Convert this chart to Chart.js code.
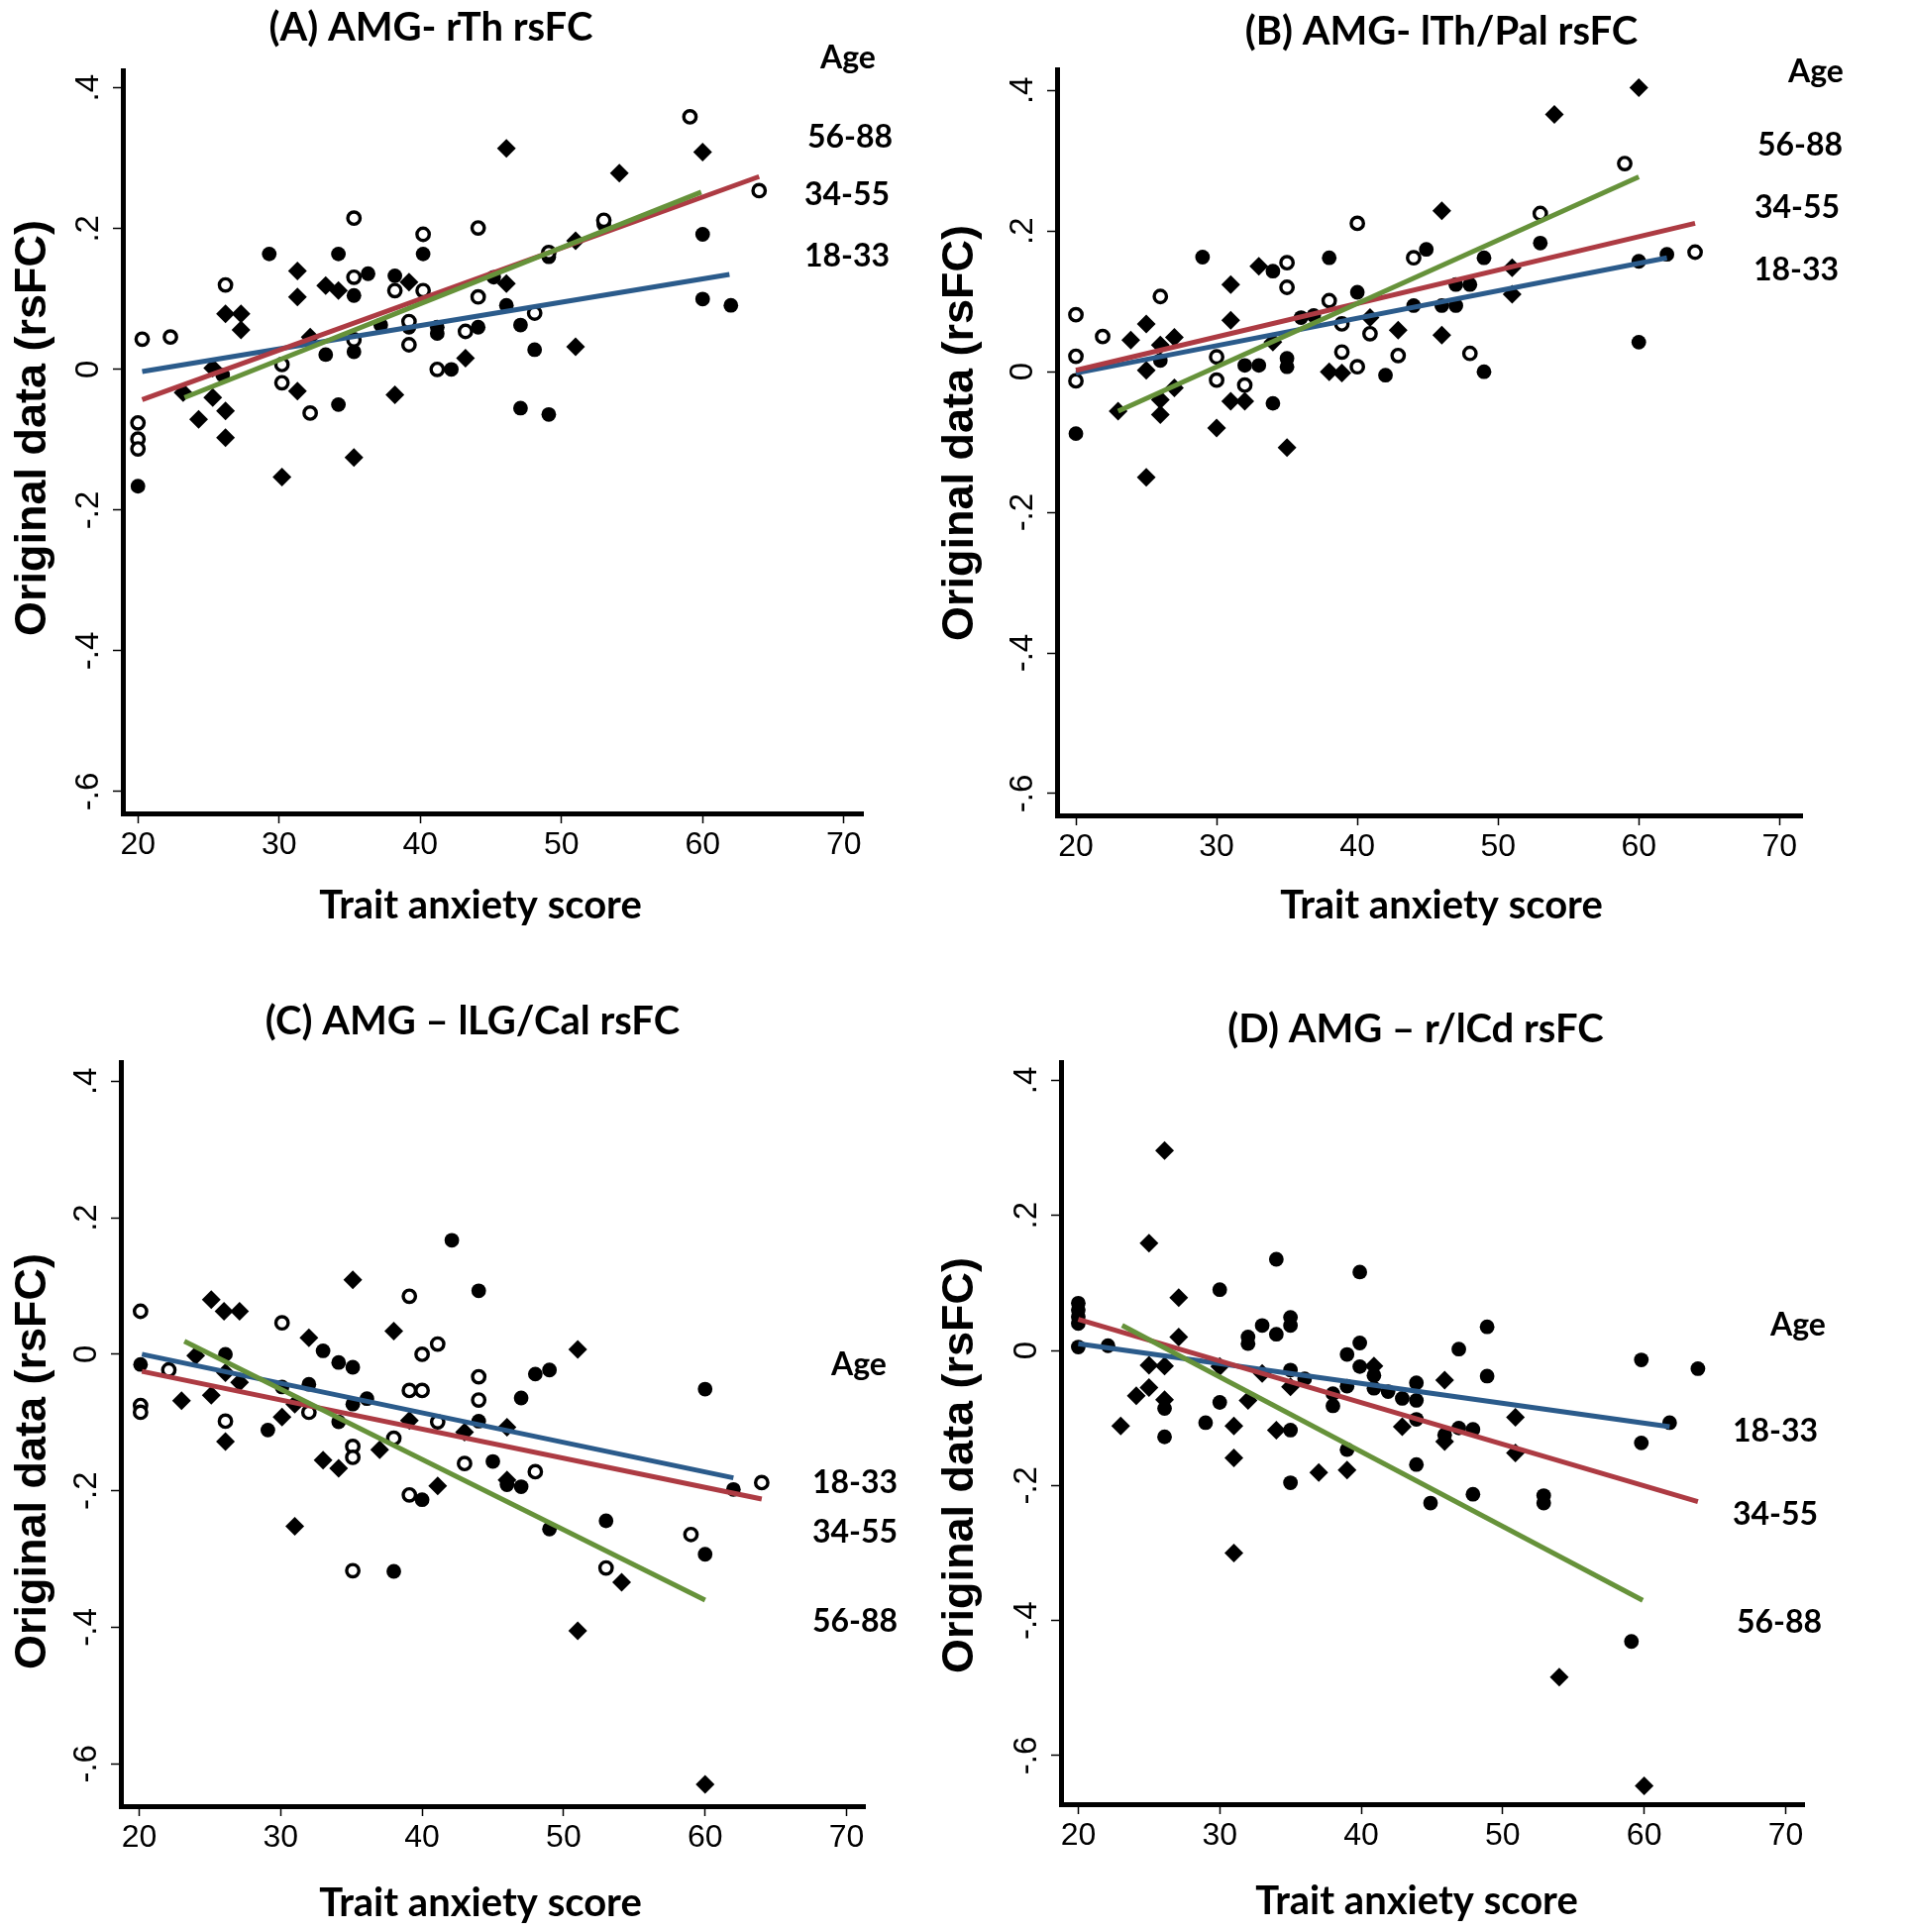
<!DOCTYPE html>
<html>
<head>
<meta charset="utf-8">
<title>Trait anxiety score vs amygdala rsFC by age group</title>
<script src="https://cdn.jsdelivr.net/npm/chart.js@4.4.1/dist/chart.umd.min.js"></script>
<style>
  html, body { margin: 0; padding: 0; background: #fff; }
  #fig { position: relative; width: 1930px; height: 1950px; overflow: hidden; }
  #fig canvas { position: absolute; }
</style>
</head>
<body>
<div id="fig">
  <canvas id="panel-a" width="940" height="975" style="left:0px;top:0px"></canvas>
  <canvas id="panel-b" width="990" height="975" style="left:940px;top:0px"></canvas>
  <canvas id="panel-c" width="940" height="975" style="left:0px;top:975px"></canvas>
  <canvas id="panel-d" width="990" height="975" style="left:940px;top:975px"></canvas>
</div>
<script>
// Trait anxiety (x) vs original rsFC data (y), markers: ● 18-33, ○ 34-55, ◆ 56-88

const X_TICKS = [20, 30, 40, 50, 60, 70];
const Y_TICKS = [-0.6, -0.4, -0.2, 0, 0.2, 0.4];
const AGE_GROUPS = ['18-33', '34-55', '56-88'];

// ── (A) AMG- rTh ──────────────────────────────────────────────────────────────
const A_FILLED = [
  [20, -0.166], [26, -0.008], [29.3, 0.164], [33.3, 0.021], [34.2, 0.164], [34.2, -0.05],
  [35.3, 0.105], [35.3, 0.025], [36.3, 0.136], [37.2, 0.063], [38.2, 0.133], [39.2, 0.06],
  [40.2, 0.164], [41.2, 0.06], [41.2, 0.051], [42.2, 0.0], [44.1, 0.06], [45.2, 0.131],
  [46.1, 0.091], [47.1, 0.063], [47.1, -0.055], [48.1, 0.028], [49.1, 0.16], [49.1, -0.064],
  [53, 0.206], [60, 0.192], [60, 0.10], [62, 0.091],
];
const A_OPEN = [
  [20.3, 0.043], [22.3, 0.046], [26.2, 0.12], [20, -0.076], [20, -0.099], [20, -0.113],
  [30.2, 0.007], [30.2, -0.019], [32.2, -0.062], [35.3, 0.215], [35.3, 0.131], [35.3, 0.042],
  [38.2, 0.112], [39.2, 0.068], [39.2, 0.035], [40.2, 0.192], [40.2, 0.112], [41.2, 0.0],
  [43.2, 0.054], [44.1, 0.201], [44.1, 0.103], [48.1, 0.08], [49.1, 0.166], [53, 0.212],
  [59.1, 0.359], [64, 0.254],
];
const A_DIAMOND = [
  [23.2, -0.033], [24.3, -0.071], [25.3, 0.002], [25.3, -0.04], [26.2, -0.059], [26.2, -0.097],
  [26.2, 0.079], [27.3, 0.079], [27.3, 0.056], [31.3, 0.14], [31.3, 0.103], [31.3, -0.031],
  [30.2, -0.153], [32.2, 0.046], [33.3, 0.119], [34.2, 0.112], [35.3, -0.125], [38.2, -0.036],
  [39.2, 0.124], [43.2, 0.016], [46.1, 0.314], [46.1, 0.122], [51, 0.032], [51, 0.183],
  [54.1, 0.279], [60, 0.309],
];
const A_FIT_18 = [[20.3, -0.003], [61.9, 0.135]];
const A_FIT_34 = [[20.3, -0.043], [64, 0.274]];
const A_FIT_56 = [[23.3, -0.04], [59.9, 0.252]];

// ── (B) AMG- lTh/Pal ──────────────────────────────────────────────────────────
const B_FILLED = [
  [20, -0.088], [26, 0.016], [29, 0.163], [32, 0.009], [33, 0.009], [34, 0.143], [34, -0.045],
  [35, 0.019], [35, 0.007], [36, 0.077], [36.9, 0.08], [38, 0.162], [40, 0.113], [42, -0.005],
  [44, 0.094], [44.9, 0.174], [46, 0.094], [47, 0.094], [47, 0.124], [48, 0.124], [49, 0.0],
  [49, 0.162], [53, 0.183], [60, 0.157], [60, 0.042], [62, 0.167],
];
const B_OPEN = [
  [20, 0.081], [20, 0.022], [20, -0.013], [21.9, 0.05], [26, 0.107], [30, 0.021], [30, -0.012],
  [32, -0.019], [35, 0.155], [35, 0.12], [38, 0.101], [38.9, 0.068], [38.9, 0.028], [40, 0.211],
  [40, 0.007], [40.9, 0.054], [42.9, 0.023], [44, 0.162], [48, 0.026], [53, 0.225], [59, 0.296],
  [64, 0.17],
];
const B_DIAMOND = [
  [23, -0.056], [23.9, 0.045], [25, 0.068], [25, 0.002], [25, -0.15], [26, 0.038], [26, -0.04],
  [26, -0.061], [27, 0.049], [27, -0.023], [30, -0.08], [31, 0.124], [31, 0.073], [31, -0.042],
  [32, -0.042], [33, 0.15], [34, 0.042], [35, -0.108], [38, 0.0], [38.9, -0.002], [40.9, 0.077],
  [42.9, 0.059], [46, 0.229], [46, 0.052], [51, 0.148], [51, 0.11], [54, 0.366], [60, 0.404],
];
const B_FIT_18 = [[20, -0.002], [62, 0.162]];
const B_FIT_34 = [[20, 0.002], [64, 0.211]];
const B_FIT_56 = [[23, -0.056], [60, 0.277]];

// ── (C) AMG – lLG/Cal ─────────────────────────────────────────────────────────
const C_FILLED = [
  [20.1, -0.015], [26.1, 0.0], [29.1, -0.111], [30.1, -0.048], [32, -0.044], [33, 0.005],
  [34.1, -0.012], [35.1, -0.019], [35.1, -0.073], [34.1, -0.099], [36.1, -0.065], [38, -0.318],
  [40, -0.213], [42.1, 0.167], [44, 0.093], [44, -0.098], [45, -0.157], [46, -0.191], [47, -0.194],
  [47, -0.064], [48, -0.029], [49, -0.023], [49, -0.256], [53, -0.244], [60, -0.051], [60, -0.293],
  [62, -0.198],
];
const C_OPEN = [
  [20.1, 0.063], [20.1, -0.075], [20.1, -0.085], [22.1, -0.023], [26.1, -0.098], [30.1, 0.046],
  [32, -0.085], [35.1, -0.135], [35.1, -0.151], [35.1, -0.317], [38, -0.123], [39.1, 0.085],
  [39.1, -0.053], [39.1, -0.206], [40, 0.0], [40, -0.053], [41.1, 0.015], [41.1, -0.099],
  [43, -0.16], [44, -0.033], [44, -0.067], [48, -0.172], [53, -0.313], [59, -0.264], [64, -0.188],
];
const C_DIAMOND = [
  [23, -0.068], [24, -0.002], [25.1, 0.08], [25.1, -0.06], [26, 0.063], [27.1, 0.063],
  [26.1, -0.027], [27.1, -0.041], [26.1, -0.128], [30.1, -0.092], [31, -0.073], [31, -0.252],
  [32, 0.024], [35.1, 0.109], [33, -0.155], [34.1, -0.167], [37, -0.14], [38, 0.034],
  [39.1, -0.097], [41.1, -0.193], [43, -0.114], [46, -0.107], [46, -0.184], [51, 0.007],
  [51, -0.405], [54.1, -0.334], [60, -0.63],
];
const C_FIT_18 = [[20.2, 0.0], [62, -0.181]];
const C_FIT_34 = [[20.2, -0.025], [64, -0.212]];
const C_FIT_56 = [[23.2, 0.019], [60, -0.36]];

// ── (D) AMG – r/lCd (all circles drawn filled in the original) ────────────────
const D_FILLED = [
  [20, 0.07], [20, 0.06], [20, 0.05], [20, 0.04], [20, 0.005], [22.1, 0.007], [26.1, -0.086],
  [26.1, -0.128], [29, -0.107], [30, 0.09], [30, -0.077], [32, 0.02], [32, 0.01], [33, 0.037],
  [34, 0.135], [34, 0.024], [35, 0.049], [35, 0.037], [35, -0.029], [35, -0.118], [35, -0.196],
  [36, -0.042], [38, -0.064], [38, -0.082], [39, -0.006], [39, -0.053], [39, -0.147],
  [39.9, 0.116], [39.9, 0.011], [39.9, -0.024], [40.9, -0.037], [40.9, -0.056], [41.9, -0.061],
  [42.9, -0.071], [43.9, -0.048], [43.9, -0.074], [43.9, -0.102], [43.9, -0.169], [44.9, -0.226],
  [45.9, -0.125], [46.9, 0.002], [46.9, -0.115], [47.9, -0.117], [47.9, -0.213], [48.9, 0.035],
  [48.9, -0.038], [52.9, -0.215], [52.9, -0.226], [59.1, -0.431], [59.8, -0.014], [59.8, -0.137],
  [61.8, -0.107], [63.8, -0.027],
];
const D_OPEN = [];
const D_DIAMOND = [
  [23, -0.112], [24.1, -0.067], [25, -0.022], [25, -0.055], [25, 0.159], [26.1, 0.296],
  [26.1, -0.023], [26.1, -0.073], [27.1, 0.078], [27.1, 0.02], [30, -0.024], [31, -0.112],
  [31, -0.159], [31, -0.30], [32, -0.074], [33, -0.034], [34, -0.118], [35, -0.054], [37, -0.181],
  [39, -0.177], [40.9, -0.023], [42.9, -0.113], [45.9, -0.044], [45.9, -0.135], [50.9, -0.099],
  [50.9, -0.152], [54, -0.484], [60, -0.645],
];
const D_FIT_18 = [[20, 0.01], [61.8, -0.113]];
const D_FIT_34 = [[20, 0.046], [63.8, -0.224]];
const D_FIT_56 = [[23.1, 0.037], [59.9, -0.37]];

// ── Styling ───────────────────────────────────────────────────────────────────
const BLUE  = '#2b5b8b';
const RED   = '#ad3b43';
const GREEN = '#66923a';
const FIT_COLORS = { '18-33': BLUE, '34-55': RED, '56-88': GREEN };

const F_TITLE  = 'bold 40px Lato';
const F_YTITLE = 'bold 45px "Liberation Sans"';
const F_LEGEND = 'bold 32px Lato';

// layout per panel, page coords (origin = canvas top-left, area = plot box)
const PANELS = [
  {
    id: 'panel-a', origin: [0, 0], area: { l: 124, t: 71, r: 871, b: 821 },
    x: [18.93, 71.35], y: [-0.631, 0.425],
    filled: A_FILLED, open: A_OPEN, diamond: A_DIAMOND,
    fits: { '18-33': A_FIT_18, '34-55': A_FIT_34, '56-88': A_FIT_56 },
    title: ['(A) AMG- rTh rsFC', 435, 28], ytitle: [34, 432], xtitle: [485, 914],
    legend: [['Age', 856, 59], ['56-88', 858, 139], ['34-55', 855, 197], ['18-33', 855, 259]],
  },
  {
    id: 'panel-b', origin: [940, 0], area: { l: 1067, t: 70, r: 1819, b: 823 },
    x: [18.66, 71.6], y: [-0.631, 0.43],
    filled: B_FILLED, open: B_OPEN, diamond: B_DIAMOND,
    fits: { '18-33': B_FIT_18, '34-55': B_FIT_34, '56-88': B_FIT_56 },
    title: ['(B) AMG- lTh/Pal rsFC', 1455, 32], ytitle: [970, 437], xtitle: [1455, 914],
    legend: [['Age', 1833, 73], ['56-88', 1817, 147], ['34-55', 1814, 210], ['18-33', 1813, 273]],
  },
  {
    id: 'panel-c', origin: [0, 975], area: { l: 122, t: 1072, r: 873, b: 1823 },
    x: [18.71, 71.29], y: [-0.662, 0.428],
    filled: C_FILLED, open: C_OPEN, diamond: C_DIAMOND,
    fits: { '18-33': C_FIT_18, '34-55': C_FIT_34, '56-88': C_FIT_56 },
    title: ['(C) AMG \u2013 lLG/Cal rsFC', 477, 1031], ytitle: [34, 1475], xtitle: [485, 1921],
    legend: [['Age', 867, 1378], ['18-33', 863, 1497], ['34-55', 863, 1547], ['56-88', 863, 1637]],
  },
  {
    id: 'panel-d', origin: [940, 975], area: { l: 1071, t: 1072, r: 1821, b: 1821 },
    x: [18.78, 71.3], y: [-0.672, 0.427],
    filled: D_FILLED, open: D_OPEN, diamond: D_DIAMOND,
    fits: { '18-33': D_FIT_18, '34-55': D_FIT_34, '56-88': D_FIT_56 },
    title: ['(D) AMG \u2013 r/lCd rsFC', 1429, 1039], ytitle: [970, 1479], xtitle: [1430, 1919],
    legend: [['Age', 1815, 1338], ['18-33', 1792, 1445], ['34-55', 1792, 1529], ['56-88', 1796, 1638]],
  },
];

// ── Text plugin: panel title, axis titles, "Age" key ─────────────────────────
const panelText = {
  id: 'panelText',
  afterDraw(chart, args, opts) {
    const ctx = chart.ctx;
    const [ox, oy] = opts.origin;
    ctx.save();
    ctx.fillStyle = '#000';
    ctx.textAlign = 'center';
    ctx.textBaseline = 'middle';
    opts.texts.forEach(t => {
      ctx.save();
      ctx.font = t.font;
      ctx.translate(t.x - ox, t.y - oy);
      if (t.rot) ctx.rotate(t.rot);
      ctx.fillText(t.text, 0, 0);
      ctx.restore();
    });
    ctx.restore();
  },
};

// ── Helpers ───────────────────────────────────────────────────────────────────
const pts = arr => arr.map(([x, y]) => ({ x, y }));

function fmtY(v) {
  if (Math.abs(v) < 1e-9) return '0';
  return v.toFixed(1).replace('0.', '.');
}

function axisGrid() {
  return {
    display: true, drawOnChartArea: false, drawTicks: true,
    tickLength: 10, tickWidth: 1.5, tickColor: '#000',
  };
}

function buildPanel(p) {
  const canvas = document.getElementById(p.id);
  const W = canvas.width, H = canvas.height;
  const [ox, oy] = p.origin;
  const L = p.area.l - ox, T = p.area.t - oy, R = p.area.r - ox, B = p.area.b - oy;

  const fitSets = AGE_GROUPS.slice().reverse().map((g, i) => ({
    type: 'line',
    label: g,
    data: pts(p.fits[g]),
    borderColor: FIT_COLORS[g],
    borderWidth: 5,
    pointRadius: 0,
    tension: 0,
    fill: false,
    order: i + 1,          // green on top, then red, then blue
  }));

  const markerSets = [
    { label: '56-88', data: pts(p.diamond), pointStyle: 'rectRot', pointRadius: 9.5,
      backgroundColor: '#000', borderColor: '#000', borderWidth: 0 },
    { label: '34-55', data: pts(p.open), pointStyle: 'circle', pointRadius: 6.2,
      backgroundColor: '#fff', borderColor: '#000', borderWidth: 3.4 },
    { label: '18-33', data: pts(p.filled), pointStyle: 'circle', pointRadius: 7.4,
      backgroundColor: '#000', borderColor: '#000', borderWidth: 0 },
  ].map(d => ({ type: 'scatter', order: 10, ...d }));

  const texts = [
    { text: p.title[0], x: p.title[1], y: p.title[2], font: F_TITLE },
    { text: 'Original data (rsFC)', x: p.ytitle[0], y: p.ytitle[1], font: F_YTITLE, rot: -Math.PI / 2 },
    { text: 'Trait anxiety score', x: p.xtitle[0], y: p.xtitle[1], font: F_TITLE },
    ...p.legend.map(([text, x, y]) => ({ text, x, y, font: F_LEGEND })),
  ];

  new Chart(canvas, {
    type: 'scatter',
    data: { datasets: [...fitSets, ...markerSets] },
    options: {
      responsive: false,
      animation: false,
      devicePixelRatio: 1,
      events: [],
      layout: { padding: { left: 0, top: T, right: W - R, bottom: 0 } },
      plugins: {
        legend: { display: false },
        tooltip: { enabled: false },
        panelText: { origin: p.origin, texts },
      },
      scales: {
        x: {
          type: 'linear', min: p.x[0], max: p.x[1],
          afterBuildTicks: s => { s.ticks = X_TICKS.map(v => ({ value: v })); },
          afterFit: s => { s.height = H - B; },
          ticks: {
            autoSkip: false, maxRotation: 0, padding: 3, color: '#000',
            font: { family: '"Liberation Sans", Arial, sans-serif', size: 32 },
            callback: v => String(v),
          },
          grid: axisGrid(),
          border: { display: true, width: 5, color: '#000' },
        },
        y: {
          type: 'linear', min: p.y[0], max: p.y[1],
          afterBuildTicks: s => { s.ticks = Y_TICKS.map(v => ({ value: v })); },
          afterFit: s => { s.width = L; },
          ticks: {
            autoSkip: false, minRotation: 90, maxRotation: 90, crossAlign: 'center',
            padding: 5, color: '#000',
            font: { family: '"Liberation Sans", Arial, sans-serif', size: 33 },
            callback: fmtY,
          },
          grid: axisGrid(),
          border: { display: true, width: 5, color: '#000' },
        },
      },
    },
    plugins: [panelText],
  });
}

document.addEventListener('DOMContentLoaded', () => {
  PANELS.forEach(buildPanel);
});
</script>
</body>
</html>
